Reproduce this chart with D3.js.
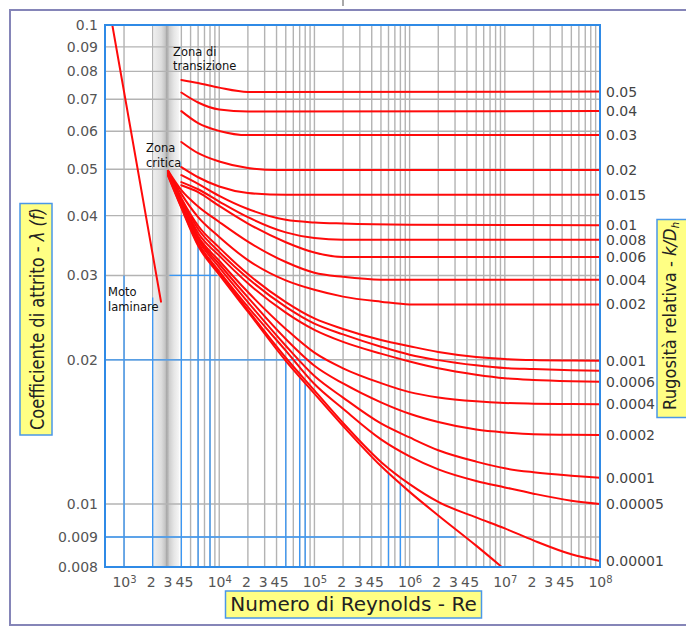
<!DOCTYPE html>
<html>
<head>
<meta charset="utf-8">
<script src="https://cdn.jsdelivr.net/npm/d3@7/dist/d3.min.js"></script>
<style>
  html, body { margin:0; padding:0; background:#fff; }
  svg { display:block; }
  text { font-family: "DejaVu Sans", sans-serif; }
</style>
</head>
<body>
<svg id="chart" width="686" height="626"></svg>
<script>
// ---------------- data ----------------
const yTickValues = [0.1, 0.09, 0.08, 0.07, 0.06, 0.05, 0.04, 0.03, 0.02, 0.01, 0.009, 0.008];
const yTickLabels = ["0.1","0.09","0.08","0.07","0.06","0.05","0.04","0.03","0.02","0.01","0.009","0.008"];
const xDecades = [1e3, 1e4, 1e5, 1e6, 1e7, 1e8];
const xDecadeExp = ["3","4","5","6","7","8"];
const xMinorLabelMult = [2, 3, 4, 5];
const xGridMult = [1, 2, 3, 4, 5, 6, 7, 8, 9];

// relative roughness curves (Re, f)
const reTop = [4000, 6000, 1e4, 2e4, 1e8];
const f_050 = [0.0768, 0.0757, 0.0740, 0.0725, 0.0726];
const f_040 = [0.0723, 0.0689, 0.0666, 0.0660, 0.0661];
const f_030 = [0.0661, 0.0624, 0.0601, 0.0589, 0.0589];
const re_020 = [4000, 6000, 1e4, 2e4, 4e4, 1e8];
const f_020 = [0.0570, 0.0540, 0.0519, 0.0503, 0.0498, 0.0498];
const re_015 = [4000, 6000, 1e4, 2e4, 5e4, 1e8];
const f_015 = [0.0505, 0.0481, 0.0460, 0.0446, 0.0442, 0.0442];
const re_010 = [4000, 6000, 1e4, 2e4, 5e4, 1e5, 2e5, 1e6, 1e8];
const f_010 = [0.0486, 0.0466, 0.0440, 0.0413, 0.0392, 0.0387, 0.0385, 0.0383, 0.0382];
const reMid = [4000, 6000, 1e4, 2e4, 5e4, 1e5, 2e5, 1e8];
const f_008 = [0.0470, 0.0454, 0.0428, 0.0397, 0.0369, 0.0359, 0.0356, 0.0356];
const f_006 = [0.0463, 0.0448, 0.0419, 0.0385, 0.0352, 0.0335, 0.0328, 0.0328];
const re_004 = [2900, 4000, 6000, 1e4, 2e4, 5e4, 1e5, 2e5, 5e5, 1e8];
const f_004 = [0.0496, 0.0452, 0.0418, 0.0388, 0.0353, 0.0320, 0.0304, 0.0298, 0.0294, 0.0294];
const re_002 = [2900, 4000, 6000, 1e4, 2e4, 5e4, 1e5, 2e5, 5e5, 1e6, 1e8];
const f_002 = [0.0496, 0.0444, 0.0397, 0.0361, 0.0323, 0.0293, 0.0280, 0.0271, 0.02645, 0.0261, 0.0261];
const reLow = [2900, 4000, 6000, 1e4, 2e4, 5e4, 1e5, 2e5, 5e5, 1e6, 2e6, 5e6, 1e7, 2e7, 5e7, 1e8];
const f_0010 = [0.0496, 0.0435, 0.0381, 0.0343, 0.0302, 0.0264, 0.0244, 0.0232, 0.0220, 0.02135, 0.02077, 0.02028, 0.02008, 0.01998, 0.01993, 0.01991];
const f_0008 = [0.0496, 0.0433, 0.0375, 0.0336, 0.0296, 0.0258, 0.0238, 0.0226, 0.0213, 0.0205, 0.01997, 0.01948, 0.01922, 0.01913, 0.01903, 0.01898];
const f_0006 = [0.0493, 0.0431, 0.0368, 0.0330, 0.0289, 0.0251, 0.0231, 0.0218, 0.0206, 0.01984, 0.0192, 0.01862, 0.01831, 0.01816, 0.01805, 0.0180];
const f_0004 = [0.0493, 0.0429, 0.0362, 0.0322, 0.0277, 0.0232, 0.0207, 0.0192, 0.01788, 0.01712, 0.01669, 0.01638, 0.01625, 0.0162, 0.01617, 0.01615];
const f_0002 = [0.0491, 0.0427, 0.0359, 0.0317, 0.0270, 0.0221, 0.01944, 0.01785, 0.0163, 0.01543, 0.01483, 0.0143, 0.0141, 0.01398, 0.01395, 0.01393];
const f_0001 = [0.0491, 0.0425, 0.0356, 0.0312, 0.0264, 0.0214, 0.0185, 0.01668, 0.01473, 0.01377, 0.01295, 0.01226, 0.01187, 0.01165, 0.01146, 0.01135];
const f_00005 = [0.0489, 0.0419, 0.0351, 0.0306, 0.0258, 0.0209, 0.0178, 0.0158, 0.01364, 0.01257, 0.01181, 0.01117, 0.01083, 0.01051, 0.01016, 0.0100];
const f_00001 = [0.0486, 0.0417, 0.0348, 0.0304, 0.0254, 0.0202, 0.01726, 0.01476, 0.01224, 0.0110, 0.0101, 0.00958, 0.00925, 0.00888, 0.00841, 0.00819];
const reSmooth = [2900, 4000, 6000, 1e4, 2e4, 5e4, 1e5, 2e5, 5e5, 1e6, 2e6, 5e6, 9.3e6];
const fSmooth = [0.0484, 0.0415, 0.0346, 0.0301, 0.0252, 0.0199, 0.0170, 0.01455, 0.0120, 0.0106, 0.00964, 0.0087, 0.0080];
const reLaminar = [753, 2445];
const fLaminar = [0.1, 0.02645];

// blue grid segments (values)
const blueVRe  = [1000, 2000, 4000, 6000, 8000, 50000, 70000, 80000, 600000, 800000, 2000000];
const blueVTop = [0.030, 0.027, 0.0401, 0.0356, 0.0339, 0.0199, 0.01877, 0.01789, 0.0116, 0.01106, 0.00953];
const blueHF    = [0.03, 0.02, 0.009];
const blueHFrom = [3000, 631, 631];
const blueHTo   = [9500, 130000, 3100000];

// ---------------- build ----------------
const series = [
  { re: reTop,   f: f_050,   label: "0.05" },
  { re: reTop,   f: f_040,   label: "0.04" },
  { re: reTop,   f: f_030,   label: "0.03" },
  { re: re_020,  f: f_020,   label: "0.02" },
  { re: re_015,  f: f_015,   label: "0.015" },
  { re: re_010,  f: f_010,   label: "0.01" },
  { re: reMid,   f: f_008,   label: "0.008" },
  { re: reMid,   f: f_006,   label: "0.006" },
  { re: re_004,  f: f_004,   label: "0.004" },
  { re: re_002,  f: f_002,   label: "0.002" },
  { re: reLow,   f: f_0010,  label: "0.001" },
  { re: reLow,   f: f_0008,  label: "" },
  { re: reLow,   f: f_0006,  label: "0.0006" },
  { re: reLow,   f: f_0004,  label: "0.0004" },
  { re: reLow,   f: f_0002,  label: "0.0002" },
  { re: reLow,   f: f_0001,  label: "0.0001" },
  { re: reLow,   f: f_00005, label: "0.00005" },
  { re: reLow,   f: f_00001, label: "0.00001" },
  { re: reSmooth, f: fSmooth, label: "" },
  { re: reLaminar, f: fLaminar, label: "" }
].map(s => ({ label: s.label, pts: s.re.map((r, i) => [r, s.f[i]]) }));

const W = 686, H = 626;
const L = 105, R = 600, T = 25, B = 567;
const svg = d3.select("#chart");

const x = d3.scaleLog().domain([Math.pow(10, 2.8), 1e8]).range([L, R]);
const yLin = d3.scaleLinear()
  .domain([Math.log10(0.008), Math.log10(0.009), Math.log10(0.01), Math.log10(0.1)])
  .range([B, 537, 504, T]);
const y = v => yLin(Math.log10(v));

svg.append("rect").attr("width", W).attr("height", H).attr("fill", "#fff");
// outer frame
svg.append("rect").attr("x", 10).attr("y", 10).attr("width", 700).attr("height", 615)
  .attr("fill", "none").attr("stroke", "#8585b8").attr("stroke-width", 2);
svg.append("line").attr("x1", 343).attr("x2", 343).attr("y1", 0).attr("y2", 6)
  .attr("stroke", "#555").attr("stroke-width", 1);

const defs = svg.append("defs");
defs.append("clipPath").attr("id", "plotclip").append("rect")
  .attr("x", L).attr("y", T).attr("width", R - L).attr("height", B - T);
const grad = defs.append("linearGradient").attr("id", "bandgrad")
  .attr("x1", "0").attr("x2", "1").attr("y1", "0").attr("y2", "0");
[[0, "#eeeeee"], [0.3, "#dedede"], [0.46, "#c4c4c4"], [0.5, "#a9a9a9"], [0.56, "#b4b4b4"],
 [0.62, "#cfcfcf"], [0.8, "#e6e6e6"], [1, "#f6f6f6"]]
  .forEach(([o, c]) => grad.append("stop").attr("offset", o).attr("stop-color", c));

// vertical gray grid
const vGrid = [];
xDecades.slice(0, 5).forEach(d => xGridMult.forEach(m => vGrid.push(d * m)));
vGrid.push(1e8);
svg.append("g").selectAll("line").data(vGrid).join("line")
  .attr("x1", d => x(d)).attr("x2", d => x(d)).attr("y1", T).attr("y2", B)
  .attr("stroke", "#b3b3b3").attr("stroke-width", 1.4);

// critical zone band
svg.append("rect").attr("x", x(2000) + 0.8).attr("y", T)
  .attr("width", x(3800) - x(2000) - 0.8).attr("height", B - T).attr("fill", "url(#bandgrad)");

// horizontal gray grid
svg.append("g").selectAll("line").data(yTickValues).join("line")
  .attr("x1", L).attr("x2", R).attr("y1", d => y(d)).attr("y2", d => y(d))
  .attr("stroke", "#b3b3b3").attr("stroke-width", 1.4);

// blue grid segments
const gBlue = svg.append("g").attr("stroke", "#3a97f5").attr("stroke-width", 1.3);
gBlue.selectAll("line.v").data(blueVRe).join("line").attr("class", "v")
  .attr("x1", d => x(d)).attr("x2", d => x(d))
  .attr("y1", (d, i) => y(blueVTop[i])).attr("y2", B);
gBlue.selectAll("line.h").data(blueHF).join("line").attr("class", "h")
  .attr("x1", (d, i) => x(blueHFrom[i])).attr("x2", (d, i) => x(blueHTo[i]))
  .attr("y1", d => y(d)).attr("y2", d => y(d));

// curves
const line = d3.line().x(d => x(d[0])).y(d => y(d[1])).curve(d3.curveMonotoneX);
svg.append("g").attr("clip-path", "url(#plotclip)")
  .selectAll("path").data(series).join("path")
  .attr("d", d => line(d.pts))
  .attr("fill", "none").attr("stroke", "#ff0a0a").attr("stroke-width", 2)
  .attr("stroke-linejoin", "round").attr("stroke-linecap", "round");

// annotations
const ann = svg.append("g").attr("font-size", "11.5px").attr("fill", "#111");
[["Zona di", 173, 55.5], ["transizione", 173, 69.5], ["Zona", 146, 151.5],
 ["critica", 146, 166.5], ["Moto", 108, 296], ["laminare", 108, 310.5]]
  .forEach(([t, tx, ty]) => ann.append("text").attr("x", tx).attr("y", ty).text(t));

// plot border
svg.append("rect").attr("x", L).attr("y", T).attr("width", R - L).attr("height", B - T)
  .attr("fill", "none").attr("stroke", "#2f8ae6").attr("stroke-width", 2);

// y axis labels
const gy = svg.append("g").attr("transform", `translate(${L},0)`)
  .call(d3.axisLeft(yLin).tickValues(yTickValues.map(v => Math.log10(v)))
    .tickSize(0).tickPadding(7).tickFormat((d, i) => yTickLabels[i]));
gy.select(".domain").remove();
gy.attr("font-family", "DejaVu Sans").attr("font-size", 14);
gy.selectAll("text").attr("fill", "#555");

// x axis labels (major)
const gxM = svg.append("g").attr("transform", `translate(0,${B})`)
  .call(d3.axisBottom(x).tickValues(xDecades).tickSize(0).tickPadding(10).tickFormat(() => ""));
gxM.select(".domain").remove();
gxM.attr("font-family", "DejaVu Sans").attr("font-size", 14);
gxM.selectAll(".tick text").attr("fill", "#555").each(function (d, i) {
  const t = d3.select(this);
  t.text(null);
  t.append("tspan").text("10");
  t.append("tspan").attr("dy", "-0.42em").attr("font-size", "10px").text(xDecadeExp[i]);
});
// x axis labels (minor)
const minorVals = [];
xDecades.slice(0, 5).forEach(d => xMinorLabelMult.forEach(m => minorVals.push(d * m)));
const gxm = svg.append("g").attr("transform", `translate(0,${B})`)
  .call(d3.axisBottom(x).tickValues(minorVals).tickSize(0).tickPadding(10)
    .tickFormat(d => String(Math.round(d / Math.pow(10, Math.floor(Math.log10(d) + 1e-9))))));
gxm.select(".domain").remove();
gxm.attr("font-family", "DejaVu Sans").attr("font-size", 14);
gxm.selectAll(".tick text").attr("fill", "#555").attr("x", -2);

// right roughness labels
svg.append("g").attr("font-size", "14px").attr("fill", "#444")
  .selectAll("text").data(series.filter(s => s.label)).join("text")
  .attr("x", R + 6).attr("y", d => y(d.pts[d.pts.length - 1][1])).attr("dy", "0.36em")
  .text(d => d.label);

// axis title boxes
const yellow = "#ffff84", boxStroke = "#4a97e8";
svg.append("rect").attr("x", 225.5).attr("y", 591).attr("width", 256).attr("height", 27)
  .attr("fill", yellow).attr("stroke", boxStroke).attr("stroke-width", 1.5);
svg.append("text").attr("x", 353.5).attr("y", 611).attr("text-anchor", "middle")
  .attr("font-size", "20px").attr("fill", "#222").text("Numero di Reynolds - Re");

svg.append("rect").attr("x", 20).attr("y", 203.5).attr("width", 32).attr("height", 231.5)
  .attr("fill", yellow).attr("stroke", boxStroke).attr("stroke-width", 1.5);
const yt = svg.append("text").attr("transform", "translate(44,319) rotate(-90)")
  .attr("text-anchor", "middle").attr("font-size", "19px").attr("fill", "#222")
  .attr("textLength", 222).attr("lengthAdjust", "spacingAndGlyphs");
yt.append("tspan").text("Coefficiente di attrito - ");
yt.append("tspan").attr("font-style", "italic").text("λ (f)");

svg.append("rect").attr("x", 657).attr("y", 219.5).attr("width", 50).attr("height", 198)
  .attr("fill", yellow).attr("stroke", boxStroke).attr("stroke-width", 1.5);
const rt = svg.append("text").attr("transform", "translate(676,316) rotate(-90)")
  .attr("text-anchor", "middle").attr("font-size", "18px").attr("fill", "#222")
  .attr("textLength", 188).attr("lengthAdjust", "spacingAndGlyphs");
rt.append("tspan").text("Rugosità relativa - ");
rt.append("tspan").attr("font-style", "italic").text("k/D");
rt.append("tspan").attr("font-style", "italic").attr("font-size", "11px").attr("dy", "3").text("h");
</script>
</body>
</html>
